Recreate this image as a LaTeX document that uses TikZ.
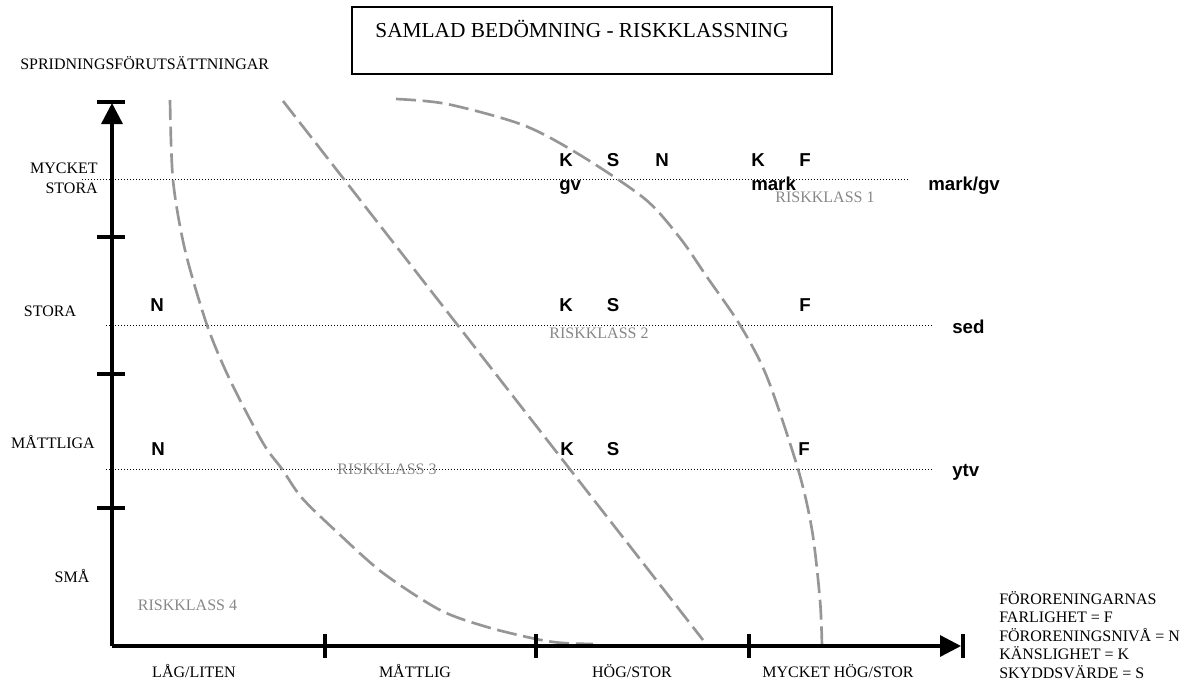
\documentclass[tikz,border=0pt]{standalone}
\usepackage{fontspec}
\setmainfont{Liberation Serif}
\setsansfont{Liberation Sans}
\usetikzlibrary{arrows.meta}
\definecolor{linjegra}{RGB}{150,150,150}
\definecolor{textgra}{RGB}{135,135,135}

\begin{document}
\begin{tikzpicture}[x=0.75pt, y=-0.75pt]
    % Node styles
    \tikzstyle{n} = [inner sep=0pt, font=\fontsize{12}{15}\selectfont]
    \tikzstyle{nb} = [inner sep=0pt, font=\fontsize{14}{16}\selectfont\sffamily\bfseries]
    \tikzstyle{rk} = [n, text=textgra]
    \tikzstyle{axel} = [line width=2.5pt]
    \tikzstyle{spets} = [-{Triangle[length=15.75pt, width=15.75pt]}]
    \tikzstyle{rad} = [line width=0.75pt, dash pattern=on 0.75pt off 1.5pt]
    \tikzstyle{kurva} = [linjegra, line width=2pt, dash pattern=on 15pt off 5pt]

    \useasboundingbox (0,0) rectangle (1189,686);

    % Title
    \node[draw, line width=1.5pt, minimum width=360pt, minimum height=50.25pt, inner sep=0pt] (ram) at (592,40.5) {};
    \node[inner sep=0pt, font=\fontsize{16}{19}\selectfont, anchor=base] (rubrik) at (582,37) {SAMLAD BEDÖMNING - RISKKLASSNING};

    % Dotted lines
    \draw[rad] (82,179) -- (908,179);
    \draw[rad] (106,325) -- (933,325);
    \draw[rad] (106,469) -- (933,469);

    % Boundaries
    \draw[kurva] plot[smooth] coordinates {(170,100) (173,180) (185,250) (207,325) (230,380) (263,443) (282,469) (302,498) (338,533) (383,573) (440,610) (487,627) (536,639) (563,643) (593,644)};
    \draw[kurva] (283,101) -- (703,640);
    \draw[kurva] plot[smooth] coordinates {(396,99) (447,104) (523,125) (580,155) (645,199) (680,238) (707,277) (740,325) (767,377) (798,469) (812,530) (820,600) (822,646)};

    % Axes
    \coordinate (o) at (112,646);
    \coordinate (ytopp) at (112,103);
    \coordinate (xslut) at (961,646);
    \draw[axel, spets] (o) -- (ytopp);
    \draw[axel, spets] (o) -- (xslut);
    \draw[axel] (97,102) -- (125,102);
    \draw[axel] (963,634) -- (963,658);

    % Ticks
    \draw[axel] (97,237) -- (125,237);
    \draw[axel] (97,374) -- (125,374);
    \draw[axel] (97,508) -- (125,508);
    \draw[axel] (325,634) -- (325,658);
    \draw[axel] (536,634) -- (536,658);
    \draw[axel] (749,634) -- (749,658);

    % Axis labels
    \node[n, anchor=base west] (sprid) at (20,69) {SPRIDNINGSFÖRUTSÄTTNINGAR};
    \node[n, anchor=east, align=right] (ymst) at (98,178) {MYCKET\\STORA};
    \node[n] (ysto) at (50,311) {STORA};
    \node[n, anchor=base] (ymat) at (53,448) {MÅTTLIGA};
    \node[n, anchor=base] (ysma) at (72,582) {SMÅ};

    \node[n, anchor=base] (xlag) at (194,677) {LÅG/LITEN};
    \node[n, anchor=base] (xmat) at (415,677) {MÅTTLIG};
    \node[n, anchor=base] (xhog) at (632,677) {HÖG/STOR};
    \node[n, anchor=base] (xmhs) at (838,677) {MYCKET HÖG/STOR};

    % Legend
    \node[n, anchor=base west] (leg1) at (999,604) {FÖRORENINGARNAS};
    \node[n, anchor=base west] (leg2) at (999,622.5) {FARLIGHET = F};
    \node[n, anchor=base west] (leg3) at (999,641) {FÖRORENINGSNIVÅ = N};
    \node[n, anchor=base west] (leg4) at (999,659.5) {KÄNSLIGHET = K};
    \node[n, anchor=base west] (leg5) at (999,678) {SKYDDSVÄRDE = S};

    % Row mark/gv
    \node[nb] (k1) at (566,160) {K};
    \node[nb] (s1) at (613,160) {S};
    \node[nb] (n1) at (662,160) {N};
    \node[nb] (k1m) at (758,160) {K};
    \node[nb] (f1) at (805,160) {F};
    \node[nb, anchor=base west] (gv) at (559,190) {gv};
    \node[nb, anchor=base west] (mark) at (751,190) {mark};
    \node[nb, anchor=base west] (markgv) at (928,190) {mark/gv};

    % Row sed
    \node[nb] (n2) at (157,305) {N};
    \node[nb] (k2) at (566,305) {K};
    \node[nb] (s2) at (613,305) {S};
    \node[nb] (f2) at (805,305) {F};
    \node[nb, anchor=base west] (sed) at (952,333) {sed};

    % Row ytv
    \node[nb] (n3) at (158,449) {N};
    \node[nb] (k3) at (567,449) {K};
    \node[nb] (s3) at (613,449) {S};
    \node[nb] (f3) at (804,449) {F};
    \node[nb, anchor=base west] (ytv) at (952,476) {ytv};

    % Risk classes
    \node[rk] (rk1) at (825,197) {RISKKLASS 1};
    \node[rk] (rk2) at (599,333) {RISKKLASS 2};
    \node[rk] (rk3) at (387,469) {RISKKLASS 3};
    \node[rk] (rk4) at (187.5,605) {RISKKLASS 4};

\end{tikzpicture}
\end{document}
